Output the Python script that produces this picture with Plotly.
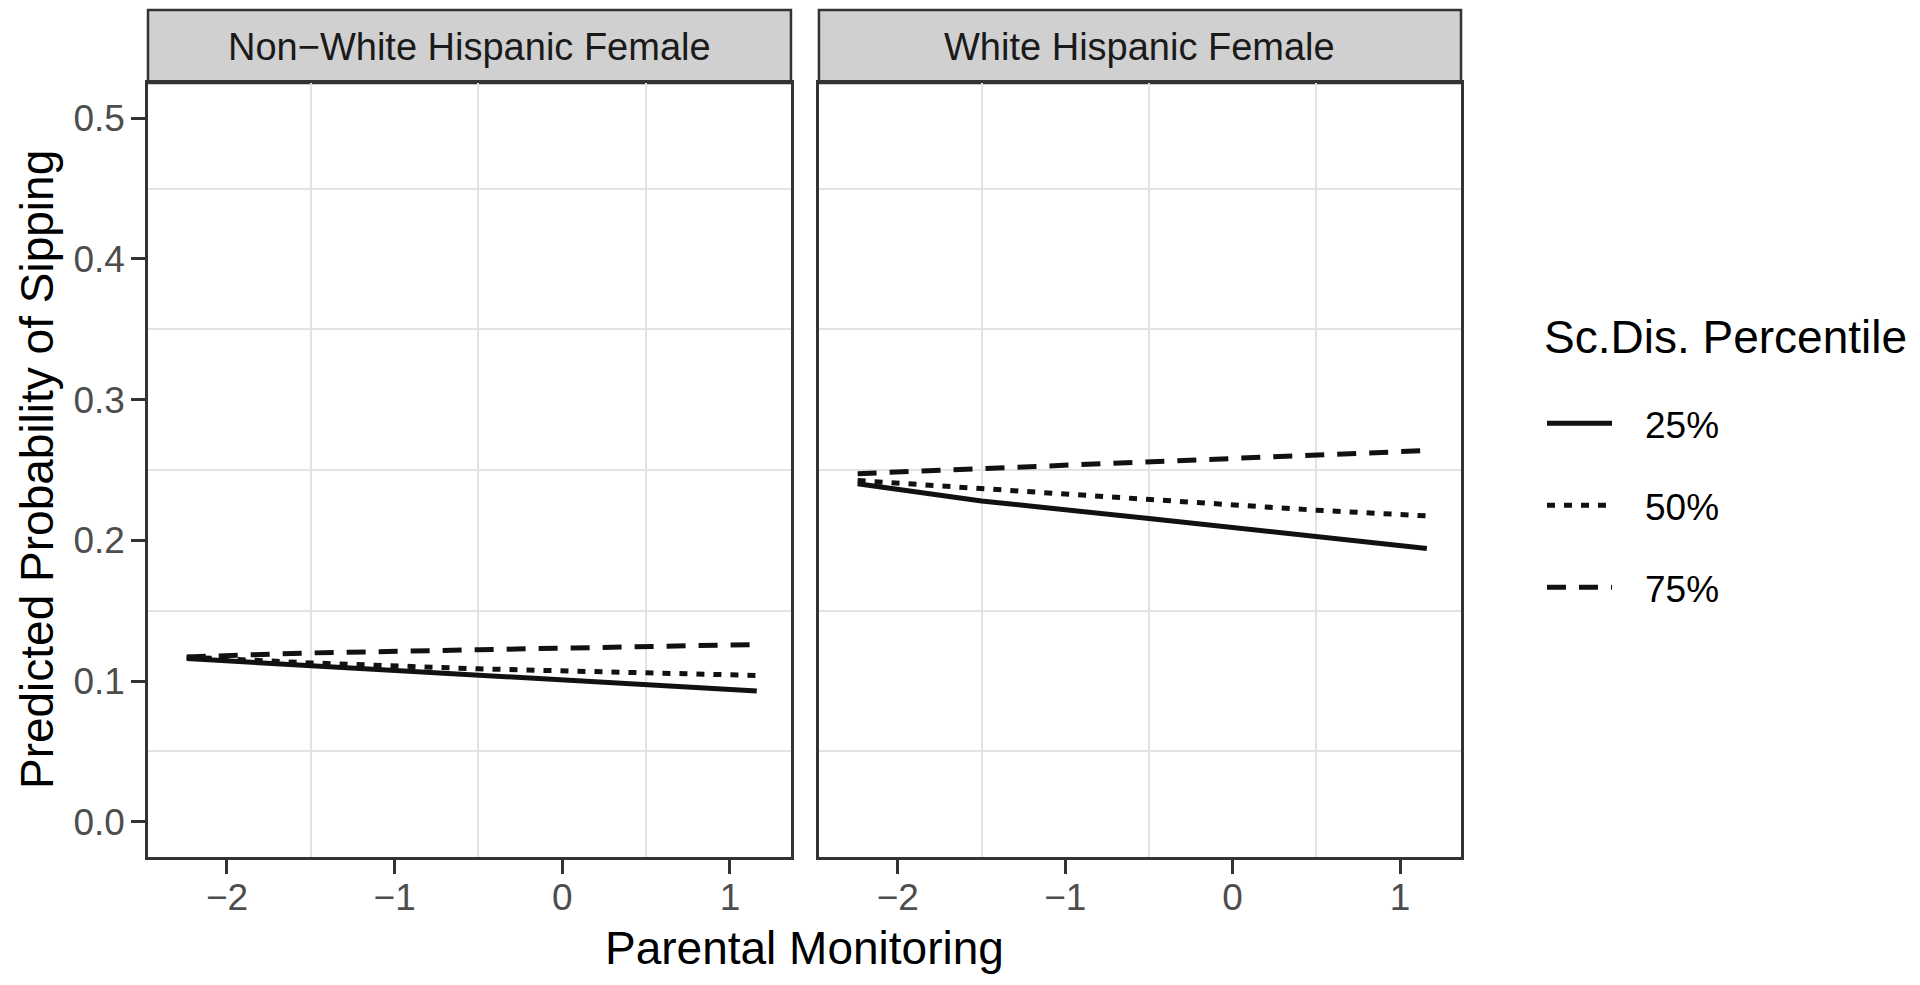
import plotly.graph_objects as go

# ---- data ----
panels = ["Non\u2212White Hispanic Female", "White Hispanic Female"]
percentiles = ["25%", "50%", "75%"]
legend_title = "Sc.Dis. Percentile"
pm_x = [-2.24, -1.5, -0.5, 0.5, 1.16]

nonwhite_25 = [0.1160, 0.1110, 0.1035, 0.0970, 0.0930]
nonwhite_50 = [0.1170, 0.1129, 0.1087, 0.1063, 0.1040]
nonwhite_75 = [0.1172, 0.1200, 0.1223, 0.1247, 0.1260]

white_25 = [0.2403, 0.2280, 0.2155, 0.2030, 0.1942]
white_50 = [0.2425, 0.2368, 0.2285, 0.2214, 0.2174]
white_75 = [0.2474, 0.2508, 0.2556, 0.2604, 0.2638]

x_ticks = [-2, -1, 0, 1]
x_tick_text = ["\u22122", "\u22121", "0", "1"]
x_minor = [-1.5, -0.5, 0.5]
y_ticks = [0.0, 0.1, 0.2, 0.3, 0.4, 0.5]
y_tick_text = ["0.0", "0.1", "0.2", "0.3", "0.4", "0.5"]
y_minor = [0.05, 0.15, 0.25, 0.35, 0.45]

series = {
    panels[0]: [nonwhite_25, nonwhite_50, nonwhite_75],
    panels[1]: [white_25, white_50, white_75],
}
dashes = ["solid", "8px,9px", "19px,13px"]

FONT = "Liberation Sans, Arial, Helvetica, sans-serif"
NB = "\u00a0\u00a0\u2009"

fig = go.Figure()
for pi, pname in enumerate(panels):
    xa = "x" if pi == 0 else "x2"
    ya = "y" if pi == 0 else "y2"
    for si, vals in enumerate(series[pname]):
        fig.add_trace(go.Scatter(
            x=pm_x, y=vals, mode="lines",
            line=dict(color="#111111", width=5, dash=dashes[si]),
            name=NB + percentiles[si], legendgroup=percentiles[si],
            showlegend=(pi == 0), xaxis=xa, yaxis=ya,
        ))

x_range = [-2.471, 1.364]
y_range = [-0.025, 0.525]
left_dom = [0.0, 0.4897]
right_dom = [0.5110, 1.0]

common_x = dict(
    range=x_range, tickmode="array", tickvals=x_ticks, ticktext=x_tick_text,
    showgrid=False, zeroline=False,
    showline=True, linecolor="#333333", linewidth=2.5, mirror=True,
    ticks="outside", ticklen=14, tickwidth=2.5, tickcolor="#333333",
    ticklabelstandoff=-8,
    tickfont=dict(family=FONT, size=37, color="#4d4d4d"),
    minor=dict(tickmode="array", tickvals=x_minor, showgrid=True,
               gridcolor="#e3e3e3", gridwidth=2, ticks=""),
)
common_y = dict(
    range=y_range, tickmode="array", tickvals=y_ticks, ticktext=y_tick_text,
    showgrid=False, zeroline=False,
    showline=True, linecolor="#333333", linewidth=2.5, mirror=True,
    tickfont=dict(family=FONT, size=37, color="#4d4d4d"),
    minor=dict(tickmode="array", tickvals=y_minor, showgrid=True,
               gridcolor="#e3e3e3", gridwidth=2, ticks=""),
)

fig.update_layout(
    width=1920, height=985,
    margin=dict(l=148, r=459, t=83, b=128),
    paper_bgcolor="white", plot_bgcolor="white",
    font=dict(family=FONT, color="#000000"),
    xaxis=dict(domain=left_dom, anchor="y", **common_x),
    xaxis2=dict(domain=right_dom, anchor="y2", **common_x),
    yaxis=dict(domain=[0, 1], anchor="x", ticks="outside", ticklen=14, tickwidth=2.5,
               tickcolor="#333333", showticklabels=True, ticklabelstandoff=-1, **common_y),
    yaxis2=dict(domain=[0, 1], anchor="x2", matches="y", ticks="", showticklabels=False, **common_y),
    legend=dict(
        font=dict(family=FONT, size=37, color="#000000"),
        x=1.0617, xanchor="left", y=0.600, yanchor="top",
        tracegroupgap=31, itemwidth=65, bgcolor="rgba(0,0,0,0)",
    ),
)

# legend title
fig.add_annotation(text=legend_title, xref="paper", yref="paper",
                   x=1.0617, y=0.6718, showarrow=False, xanchor="left", yanchor="middle",
                   font=dict(family=FONT, size=46, color="#000000"))

# facet strips
strip_top = 1.0943
for dom, name in zip([left_dom, right_dom], panels):
    fig.add_shape(type="rect", xref="paper", yref="paper",
                  x0=dom[0], x1=dom[1], y0=1.0, y1=strip_top,
                  fillcolor="#d0d0d0", line=dict(color="#333333", width=2.5), layer="below")
    fig.add_annotation(text=name, xref="paper", yref="paper",
                       x=(dom[0] + dom[1]) / 2, y=(1.0 + strip_top) / 2,
                       showarrow=False, xanchor="center", yanchor="middle",
                       font=dict(family=FONT, size=38, color="#1a1a1a"))

# axis titles
fig.add_annotation(text="Parental Monitoring", xref="paper", yref="paper",
                   x=0.5, y=-0.1176, showarrow=False, xanchor="center", yanchor="middle",
                   font=dict(family=FONT, size=46, color="#000000"))
fig.add_annotation(text="Predicted Probability of Sipping", xref="paper", yref="paper",
                   x=-0.0845, y=0.5, showarrow=False, textangle=-90,
                   xanchor="center", yanchor="middle",
                   font=dict(family=FONT, size=46, color="#000000"))

fig.write_html("out.html", config={"displayModeBar": False},
               post_script="document.body.style.margin='0px';")
